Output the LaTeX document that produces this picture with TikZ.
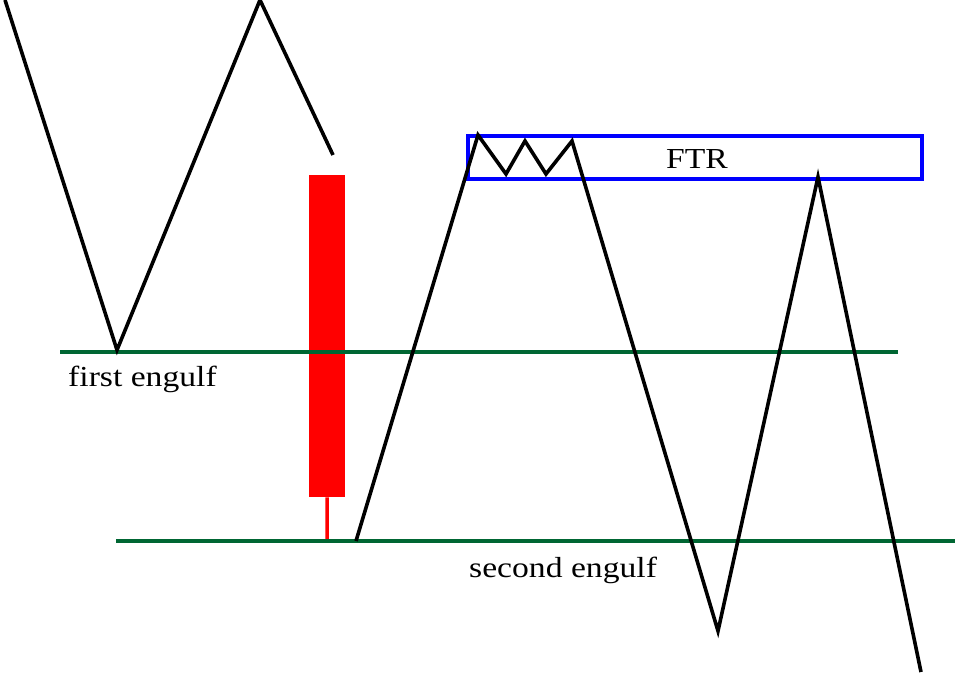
\documentclass[tikz,border=0pt]{standalone}
\usepackage{fontspec}
\setmainfont[FakeStretch=1.16]{Liberation Serif}
\definecolor{lvlgreen}{RGB}{0,102,51}
\definecolor{boxblue}{RGB}{0,0,255}
\definecolor{candred}{RGB}{255,0,0}
\tikzset{
  price/.style={draw=black, line width=3.6pt, line join=miter, line cap=butt},
  level/.style={draw=lvlgreen, line width=3.8pt},
  lbl/.style={font=\fontsize{29}{32}\selectfont, text=black, inner sep=0pt},
  zone/.style={draw=boxblue, line width=3.6pt, fill=none},
  body/.style={fill=candred, draw=none},
  wick/.style={draw=candred, line width=3.5pt}
}
\begin{document}
\begin{tikzpicture}[x=1pt,y=-1pt]
\useasboundingbox (0,0) rectangle (955,674);
% levels
\coordinate (l1a) at (60,352);
\coordinate (l1b) at (898,352);
\coordinate (l2a) at (116,541);
\coordinate (l2b) at (955,541);
% FTR zone
\node[zone, minimum width=454pt, minimum height=43pt, anchor=north west, inner sep=0pt] (ftr) at (466,134) {};
\node[lbl] (ftrtxt) at (697,159) {FTR};
% candle
\node[body, minimum width=36pt, minimum height=322pt, anchor=north west, inner sep=0pt] (cbody) at (309,175) {};
\coordinate (wickend) at (327,541);
\draw[wick] (cbody.south) -- (wickend);
\draw[level] (l1a) -- (l1b);
\draw[level] (l2a) -- (l2b);
% left price path
\coordinate (p0) at (5,0);
\coordinate (p1) at (117,350);
\coordinate (p2) at (260,0);
\coordinate (p3) at (333,155);
\draw[price] (p0) -- (p1) -- (p2) -- (p3);
% right price path
\coordinate (q0) at (356,541);
\coordinate (q1) at (478,135);
\coordinate (q2) at (506,174);
\coordinate (q3) at (525,141);
\coordinate (q4) at (546,174);
\coordinate (q5) at (572,141);
\coordinate (q6) at (718,631);
\coordinate (q7) at (818,177);
\coordinate (q8) at (921,672);
\draw[price] (q0) -- (q1) -- (q2) -- (q3) -- (q4) -- (q5) -- (q6) -- (q7) -- (q8);
% labels
\node[lbl, anchor=west] (first) at (68,379) {first engulf};
\node[lbl, anchor=west] (second) at (469,570) {second engulf};
\end{tikzpicture}
\end{document}
